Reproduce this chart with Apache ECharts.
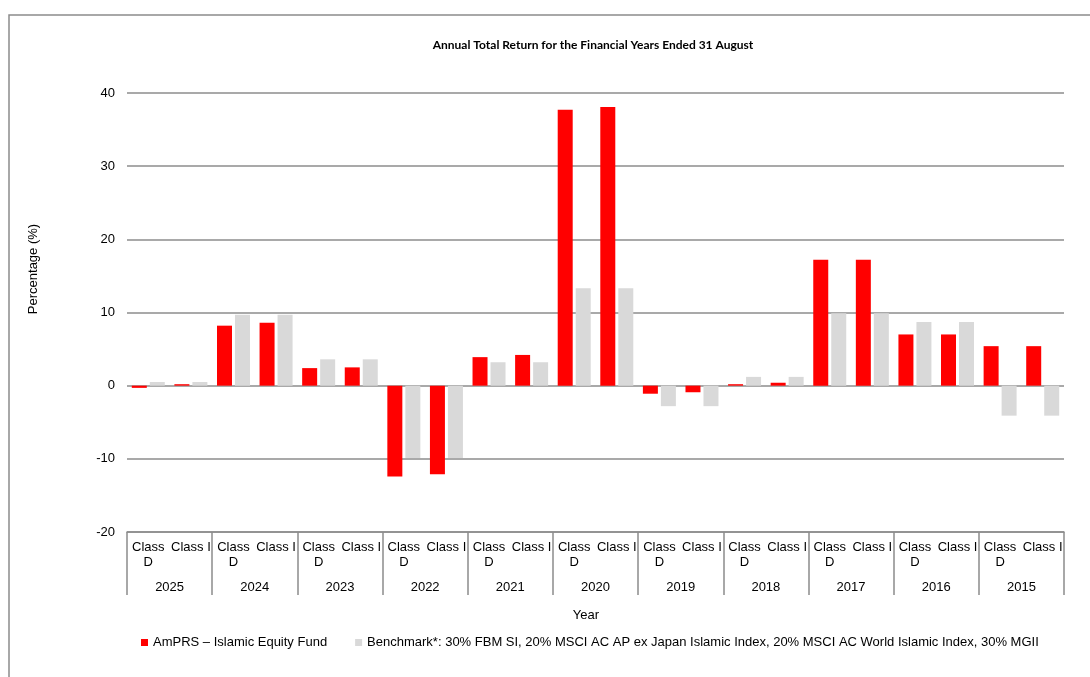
<!DOCTYPE html>
<html>
<head>
<meta charset="utf-8">
<script src="https://cdn.jsdelivr.net/npm/echarts@6/dist/echarts.min.js"></script>
<style>
html,body{margin:0;padding:0;background:#fff;}
#chart{width:1090px;height:677px;}
</style>
</head>
<body>
<div id="chart"></div>
<script>
const years = ['2025','2024','2023','2022','2021','2020','2019','2018','2017','2016','2015'];
const classes = ['Class D','Class I'];
const fundClassD = [-0.3, 8.2, 2.4, -12.4, 3.9, 37.7, -1.1, 0.2, 17.2, 7.0, 5.4];
const fundClassI = [0.2, 8.6, 2.5, -12.1, 4.2, 38.1, -0.9, 0.4, 17.2, 7.0, 5.4];
const benchmarkClassD = [0.5, 9.7, 3.6, -9.9, 3.2, 13.3, -2.8, 1.2, 9.9, 8.7, -4.1];
const benchmarkClassI = [0.5, 9.7, 3.6, -9.9, 3.2, 13.3, -2.8, 1.2, 9.9, 8.7, -4.1];
const yTicks = [-20, -10, 0, 10, 20, 30, 40];
const seriesNames = ['AmPRS \u2013 Islamic Equity Fund', 'Benchmark*: 30% FBM SI, 20% MSCI AC AP ex Japan Islamic Index, 20% MSCI AC World Islamic Index, 30% MGII'];
const titleText = 'Annual Total Return for the Financial Years Ended 31 August';

const categories = [];
const fundData = [];
const benchData = [];
years.forEach((y, i) => {
  categories.push(classes[0], classes[1]);
  fundData.push(fundClassD[i], fundClassI[i]);
  benchData.push(benchmarkClassD[i], benchmarkClassI[i]);
});

const FONT = '"Liberation Sans", Arial, sans-serif';
const gridColor = '#8c8c8c';

const chart = echarts.init(document.getElementById('chart'));
chart.setOption({
  backgroundColor: '#ffffff',
  animation: false,
  textStyle: { fontFamily: FONT },
  graphic: [
    { type: 'rect', z: -1, shape: { x: 9, y: 15, width: 1200, height: 800 },
      style: { fill: 'none', stroke: '#8c8c8c', lineWidth: 1.5 } },
    { type: 'text', x: 593, y: 45,
      style: { text: titleText, font: 'bold 12px Lato, "Liberation Sans", sans-serif', fill: '#000', textAlign: 'center', textVerticalAlign: 'middle' } },
    { type: 'text', x: 33, y: 269, rotation: Math.PI / 2,
      style: { text: 'Percentage (%)', font: '13px ' + FONT, fill: '#000', textAlign: 'center', textVerticalAlign: 'middle' } },
    { type: 'text', x: 586, y: 615,
      style: { text: 'Year', font: '13px ' + FONT, fill: '#000', textAlign: 'center', textVerticalAlign: 'middle' } }
  ],
  legend: {
    data: seriesNames,
    left: 141, top: 636, padding: 0,
    itemWidth: 7, itemHeight: 7, itemGap: 28,
    icon: 'rect',
    textStyle: { fontFamily: FONT, fontSize: 13, color: '#000' }
  },
  grid: { left: 127, right: 26, top: 93, bottom: 145, containLabel: false },
  xAxis: [
    {
      type: 'category', data: categories, position: 'bottom',
      axisLine: { show: true, onZero: false, lineStyle: { color: gridColor, width: 1.5 } },
      axisTick: { show: false },
      axisLabel: {
        interval: 0, margin: 8, fontSize: 13, lineHeight: 15, color: '#000', fontFamily: FONT,
        formatter: v => v === 'Class D' ? 'Class\nD' : v
      }
    },
    {
      type: 'category', data: years, position: 'bottom',
      axisLine: { show: false, onZero: false },
      axisTick: { show: true, length: 63, interval: 0, lineStyle: { color: gridColor, width: 1.5 } },
      axisLabel: { interval: 0, margin: 49, fontSize: 13, color: '#000', fontFamily: FONT }
    }
  ],
  yAxis: {
    type: 'value', min: yTicks[0], max: yTicks[yTicks.length - 1], interval: 10,
    axisLine: { show: false }, axisTick: { show: false },
    axisLabel: { margin: 12, fontSize: 13, color: '#000', fontFamily: FONT },
    splitLine: { show: true, lineStyle: { color: gridColor, width: 1.5 } }
  },
  series: [
    { name: seriesNames[0], type: 'bar', xAxisIndex: 0, data: fundData,
      barWidth: 15, barGap: '20%', itemStyle: { color: '#ff0000' } },
    { name: seriesNames[1], type: 'bar', xAxisIndex: 0, data: benchData,
      barWidth: 15, barGap: '20%', itemStyle: { color: '#d9d9d9' } }
  ]
});
</script>
</body>
</html>
